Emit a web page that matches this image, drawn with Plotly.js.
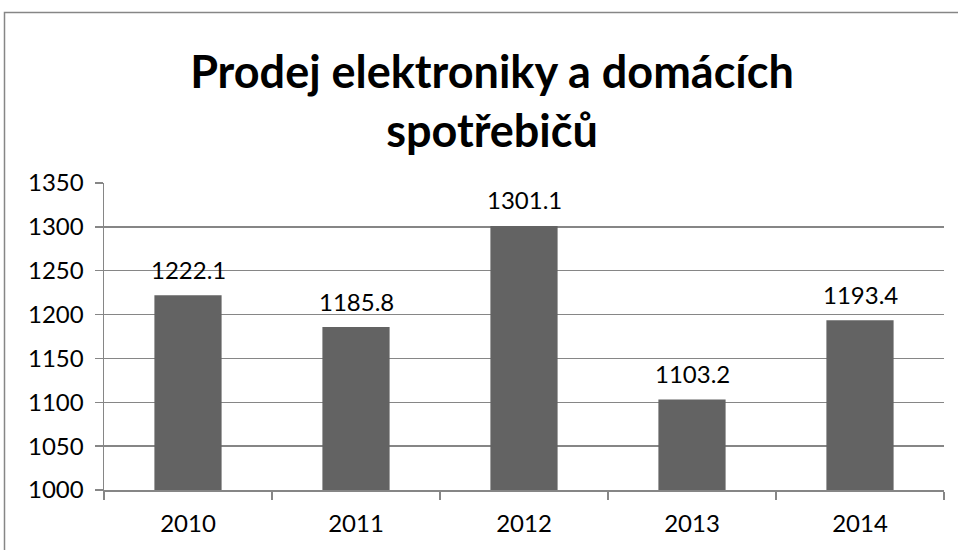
<!DOCTYPE html>
<html><head><meta charset="utf-8">
<script src="https://cdn.plot.ly/plotly-3.0.1.min.js"></script>
<style>html,body{margin:0;padding:0;background:#fff;}#chart{width:958px;height:550px;}</style>
</head><body><div id="chart"></div>
<script>
const years = ['2010','2011','2012','2013','2014'];
const sales = [1222.1, 1185.8, 1301.1, 1103.2, 1193.4];
const labels = sales.map(v => v.toFixed(1));

const W = 958, H = 550;
const M = {l: 104, r: 14, t: 183, b: 60};
const pw = W - M.l - M.r, ph = H - M.t - M.b;
const px = x => (x - M.l) / pw;
const py = y => (H - M.b - y) / ph;
const FONT = 'Lato, Carlito, "Open Sans", sans-serif';
const GRID = '#868686';

const trace = {
  type: 'bar', x: years, y: sales,
  marker: {color: '#636363'},
  hoverinfo: 'x+y'
};

// data labels placed on the category axis by category index
const annotations = years.map((yr, i) => ({
  x: i, y: sales[i], xref: 'x', yref: 'y',
  text: labels[i], showarrow: false,
  xanchor: 'center', yanchor: 'middle', yshift: 26,
  font: {family: FONT, size: 24, color: '#000'}
}));

const layout = {
  width: W, height: H,
  margin: M,
  paper_bgcolor: '#fff', plot_bgcolor: '#fff',
  showlegend: false,
  bargap: 0.6,
  font: {family: FONT, color: '#000'},
  title: {
    text: '<b>Prodej elektroniky a domácích<br>spotřebičů</b>',
    font: {family: FONT, size: 45, color: '#000'},
    x: px(492), xref: 'paper', xanchor: 'center',
    y: 0.84, yref: 'container', yanchor: 'middle'
  },
  xaxis: {
    type: 'category',
    showline: true, linecolor: GRID, linewidth: 1.5,
    ticks: 'outside', tickson: 'boundaries', ticklen: 8, tickcolor: GRID, tickwidth: 1.5,
    tickfont: {family: FONT, size: 24, color: '#000'},
    ticklabelstandoff: 12,
    showgrid: false, fixedrange: true
  },
  yaxis: {
    range: [1000, 1350], dtick: 50, tick0: 1000,
    showline: true, linecolor: GRID, linewidth: 1.5,
    ticks: 'outside', ticklen: 8, tickcolor: GRID, tickwidth: 1.5,
    showgrid: true, gridcolor: GRID, gridwidth: 1.5,
    zeroline: false,
    tickfont: {family: FONT, size: 24, color: '#000'},
    ticklabelstandoff: 6,
    fixedrange: true
  },
  annotations: annotations,
  shapes: [{
    type: 'rect', xref: 'paper', yref: 'paper', layer: 'above',
    x0: px(4.5), x1: px(965), y0: py(12.5), y1: py(565),
    line: {color: GRID, width: 1.5}
  }]
};

Plotly.newPlot('chart', [trace], layout, {staticPlot: true});
</script></body></html>
